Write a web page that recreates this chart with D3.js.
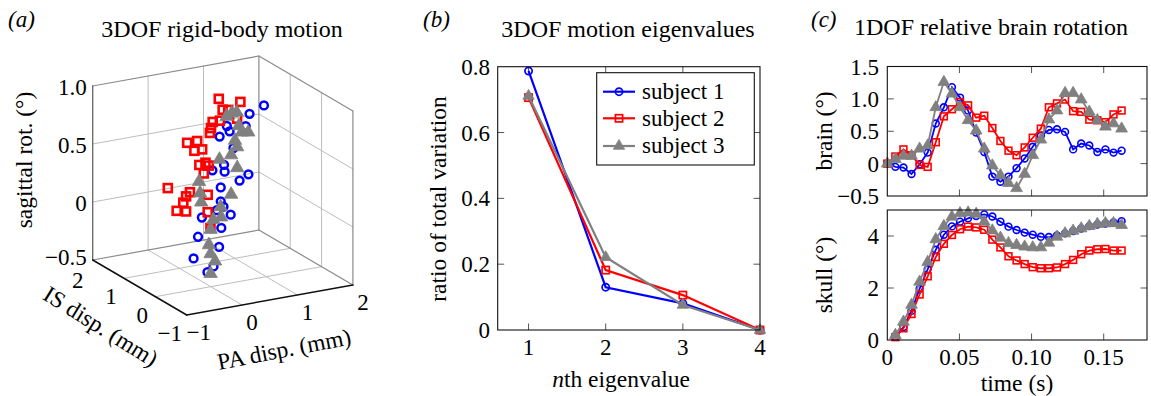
<!DOCTYPE html>
<html><head><meta charset="utf-8">
<script src="https://cdn.jsdelivr.net/npm/d3@7"></script>
<style>body{margin:0;background:#fff}</style>
</head><body>
<svg id="c" width="1151" height="396"></svg>
<script>
// ---------- DATA ----------
// panel (a): 3DOF rigid-body motion (PA disp mm, IS disp mm, sagittal rot deg)
const s1PA  = [0.96,0.70,0.63,0.29,0.34,0.16,0.41,0.24,0.03,0.25,0.68,0.52,0.18,0.18,0.23,0.11,0.36,-0.16,0.19,-0.23,0.15,-0.31,0.05,-0.06];
const s1IS  = [0,0,0,0,0,0,0,0,0,0,0,0,0,0,0,0,0,0,0,0,0,0,0,0];
const s1Rot = [0.98,0.93,0.83,0.86,0.81,0.78,0.66,0.53,0.50,0.47,0.41,0.37,0.34,0.22,0.17,0.15,0.09,0.11,-0.01,-0.05,-0.17,-0.23,-0.33,-0.37];
const s2PA  = [0.71,1.10,0.78,0.88,1.04,0.60,0.73,0.57,0.55,0.14,0.32,0.27,0.41,0.36,0.47,0.53,0.44,-0.21,0.19,0.12,0.07,-0.05,0.12,0.51,0.51,0.56];
const s2IS  = [1,1,1,1,1,1,1,1,1,1,1,1,1,1,1,1,1,1,1,1,1,1,1,1,1,1];
const s2Rot = [0.90,0.84,0.80,0.79,0.70,0.71,0.71,0.66,0.62,0.57,0.57,0.49,0.49,0.36,0.37,0.34,0.28,0.21,0.14,0.11,0.06,0.00,-0.02,0.09,-0.06,-0.20];
const s3PA  = [0.57,0.66,0.75,0.79,0.84,0.96,0.72,0.76,0.65,0.44,0.76,0.07,0.09,0.65,0.11,0.46,0.47,0.33,0.28,0.25,0.28,0.36,0.28];
const s3IS  = [0.5,0.5,0.5,0.5,0.5,0.5,0.5,0.5,0.5,0.5,0.5,0.5,0.5,0.5,0.5,0.5,0.5,0.5,0.5,0.5,0.5,0.5,0.5];
const s3Rot = [0.84,0.86,0.86,0.74,0.68,0.67,0.62,0.56,0.50,0.48,0.38,0.32,0.22,0.16,0.14,0.07,-0.02,-0.03,-0.11,-0.24,-0.32,-0.39,-0.49];
const paTicks  = [-1,0,1,2];
const isTicks  = [-1,0,1,2];
const rotTicks = [-0.5,0,0.5,1.0];
const rotTickLabels = ["\u22120.5","0","0.5","1.0"];

// panel (b): eigenvalues
const eigN  = [1,2,3,4];
const eigS1 = [0.787,0.130,0.081,0.0];
const eigS2 = [0.706,0.182,0.106,0.0];
const eigS3 = [0.711,0.221,0.076,0.0];
const eigYTicks = [0,0.2,0.4,0.6,0.8];
const eigYLabels = ["0","0.2","0.4","0.6","0.8"];

// panel (c): 1DOF relative brain rotation
const tBrain = [0,0.0056,0.0112,0.0168,0.0224,0.028,0.0336,0.0392,0.0448,0.0504,0.056,0.0616,0.0672,0.0728,0.0784,0.084,0.0896,0.0952,0.1008,0.1064,0.112,0.1176,0.1232,0.1288,0.1344,0.14,0.1456,0.1512,0.1568,0.1624];
const brainS1 = [0,-0.05,-0.06,-0.16,-0.01,0.17,0.62,0.87,1.18,1.02,0.82,0.48,0.18,-0.20,-0.28,-0.20,-0.07,0.08,0.26,0.43,0.52,0.53,0.49,0.22,0.31,0.28,0.18,0.22,0.17,0.20];
const brainS2 = [0,0.11,0.22,0.13,-0.02,-0.05,0.33,0.73,0.84,0.95,0.90,0.71,0.74,0.55,0.35,0.20,0.13,0.25,0.40,0.54,0.87,0.93,0.99,0.81,0.80,0.68,0.67,0.64,0.76,0.82];
const brainS3 = [0,0.07,0.12,0.12,0.23,0.28,0.87,1.26,1.08,0.87,0.67,0.51,0.23,-0.03,-0.18,-0.30,-0.38,-0.16,0.13,0.37,0.68,0.82,1.09,1.09,0.99,0.80,0.67,0.57,0.62,0.54];
const tSkull = [0.0056,0.0112,0.0168,0.0224,0.028,0.0336,0.0392,0.0448,0.0504,0.056,0.0616,0.0672,0.0728,0.0784,0.084,0.0896,0.0952,0.1008,0.1064,0.112,0.1176,0.1232,0.1288,0.1344,0.14,0.1456,0.1512,0.1568,0.1624];
const skullS1 = [0.12,0.50,1.12,1.97,2.72,3.47,4.05,4.37,4.55,4.68,4.77,4.83,4.75,4.55,4.36,4.23,4.13,4.05,3.97,3.96,4.02,4.10,4.19,4.29,4.38,4.44,4.48,4.52,4.57];
const skullS2 = [0.11,0.45,1.00,1.75,2.45,3.19,3.70,4.04,4.26,4.36,4.33,4.24,3.86,3.56,3.22,3.06,2.92,2.80,2.76,2.76,2.79,2.92,3.08,3.30,3.44,3.49,3.50,3.44,3.44];
const skullS3 = [0.19,0.70,1.35,2.24,3.00,3.87,4.38,4.74,4.87,4.90,4.85,4.55,4.21,3.93,3.72,3.65,3.59,3.56,3.56,3.74,3.97,4.10,4.20,4.29,4.38,4.46,4.49,4.49,4.42];
const timeTicks = [0,0.05,0.10,0.15];
const timeTickLabels = ["0","0.05","0.10","0.15"];
const brainTicks = [-0.5,0,0.5,1.0,1.5];
const brainTickLabels = ["\u22120.5","0","0.5","1.0","1.5"];
const skullTicks = [0,2,4];
const skullTickLabels = ["0","2","4"];

// ---------- STYLE ----------
const FONT = "'Liberation Serif','Times New Roman',serif";
const BLUE = "#0000ff", RED = "#ff0000", GREY = "#808080";
const TICKC = "#555";
const svg = d3.select("#c");
svg.append("rect").attr("width",1151).attr("height",396).attr("fill","#fff");

function txt(g, x, y, s, size, anchor, opts={}) {
  const t = g.append("text").attr("x",x).attr("y",y).text(s)
    .attr("font-family",FONT).attr("font-size",size).attr("fill","#000")
    .attr("text-anchor",anchor||"start");
  if (opts.italic) t.attr("font-style","italic");
  if (opts.transform) t.attr("transform",opts.transform);
  if (opts.dy) t.attr("dy",opts.dy);
  return t;
}

function marker(g, type, x, y, color, sz, sw) {
  if (type === "circle") {
    g.append("circle").attr("cx",x).attr("cy",y).attr("r",sz)
      .attr("fill","none").attr("stroke",color).attr("stroke-width",sw);
  } else if (type === "square") {
    g.append("rect").attr("x",x-sz).attr("y",y-sz).attr("width",2*sz).attr("height",2*sz)
      .attr("fill","none").attr("stroke",color).attr("stroke-width",sw);
  } else {
    g.append("path").attr("d",d3.symbol().type(d3.symbolTriangle).size(sz*sz*1.9)())
      .attr("transform",`translate(${x},${y})`).attr("fill",color).attr("stroke",color).attr("stroke-width",0.8);
  }
}

// ---------- PANEL (a) : 3D scatter ----------
(function(){
  const g = svg.append("g");
  const B = [186.7,315];           // front-bottom corner (PA=-1, IS=-1, rot=-0.5)
  const U = [166.2,-30];           // full PA span
  const V = [-94,-55];             // full IS span
  const W = [0,-174];              // full rot span
  const sPA = d3.scaleLinear().domain([-1,2]).range([0,1]);
  const sIS = d3.scaleLinear().domain([-1,2]).range([0,1]);
  const sR  = d3.scaleLinear().domain([-0.5,1.0]).range([0,1]);
  const P = (pa,is,r) => {
    const a=sPA(pa), b=sIS(is), c=sR(r);
    return [B[0]+a*U[0]+b*V[0]+c*W[0], B[1]+a*U[1]+b*V[1]+c*W[1]];
  };
  const line = (p,q,col,w) => g.append("line").attr("x1",p[0]).attr("y1",p[1]).attr("x2",q[0]).attr("y2",q[1])
      .attr("stroke",col).attr("stroke-width",w).attr("stroke-linecap","round");
  const GRID = "#bdbdbd";
  [0,1].forEach(pa => line(P(pa,2,-0.5),P(pa,2,1.0),GRID,1));
  [0,0.5].forEach(r => line(P(-1,2,r),P(2,2,r),GRID,1));
  [0,1].forEach(is => line(P(2,is,-0.5),P(2,is,1.0),GRID,1));
  [0,0.5].forEach(r => line(P(2,-1,r),P(2,2,r),GRID,1));
  [0,1].forEach(pa => line(P(pa,-1,-0.5),P(pa,2,-0.5),GRID,1));
  [0,1].forEach(is => line(P(-1,is,-0.5),P(2,is,-0.5),GRID,1));
  const EDGE = "#8a8a8a";
  line(P(-1,2,1.0),P(2,2,1.0),EDGE,1.2);
  line(P(2,2,1.0),P(2,-1,1.0),EDGE,1.2);
  line(P(2,2,-0.5),P(2,2,1.0),EDGE,1.2);
  line(P(2,-1,-0.5),P(2,-1,1.0),EDGE,1.2);
  line(P(-1,2,-0.5),P(2,2,-0.5),EDGE,1.2);
  line(P(2,2,-0.5),P(2,-1,-0.5),EDGE,1.2);
  line(P(-1,2,-0.5),P(-1,2,1.0),"#666",1.3);
  line(P(-1,2,-0.5),P(-1,-1,-0.5),"#111",1.5);
  line(P(-1,-1,-0.5),P(2,-1,-0.5),"#111",1.5);
  rotTicks.forEach((r,i) => { const p=P(-1,2,r); txt(g,p[0]-6,p[1]+(r===-0.5?-3:1),rotTickLabels[i],23,"end",{dy:"0.35em"}); });
  isTicks.forEach(v => { const p=P(-1,v,-0.5); txt(g,p[0]-13+(v===-1?-4:0)+(v===2?-2:0),p[1]+18+(v===2?2:0),v<0?"\u2212"+Math.abs(v):String(v),23,"middle",{dy:"0.35em"}); });
  paTicks.forEach(v => { const p=P(v,-1,-0.5); txt(g,p[0]+10+(v===-1?2:0),p[1]+17,v<0?"\u2212"+Math.abs(v):String(v),23,"middle",{dy:"0.35em"}); });
  const series = [[s1PA,s1IS,s1Rot,"circle",BLUE],[s2PA,s2IS,s2Rot,"square",RED],[s3PA,s3IS,s3Rot,"tri",GREY]];
  series.forEach(([pa,is,rot,type,col]) => {
    pa.forEach((v,i) => {
      const p = P(v,is[i],rot[i]);
      if (type==="circle") marker(g,"circle",p[0],p[1],col,3.9,2.5);
      else if (type==="square") marker(g,"square",p[0],p[1],col,4,2.6);
      else marker(g,"tri",p[0],p[1],col,6.4,0);
    });
  });
  txt(g,8,27,"(a)",23,"start",{italic:true});
  txt(g,222,37,"3DOF rigid-body motion",24,"middle");
  txt(g,0,0,"sagittal rot. (\u00b0)",23.5,"middle",{transform:"translate(24,160) rotate(-90)",dy:"0.35em"});
  txt(g,0,0,"IS disp. (mm)",23.5,"middle",{transform:"translate(101,326) rotate(32)",dy:"0.35em"});
  txt(g,0,0,"PA disp. (mm)",23.5,"middle",{transform:"translate(284,349) rotate(-11)",dy:"0.35em"});
})();

// ---------- PANEL (b) : eigenvalues ----------
(function(){
  const g = svg.append("g");
  const L=497.7, R=760, T=66.7, Bt=330;
  const x = d3.scaleLinear().domain([0.6,4]).range([L,R]);
  const y = d3.scaleLinear().domain([0,0.8]).range([Bt,T]);
  [1,2,3].forEach(v => {
    g.append("line").attr("x1",x(v)).attr("x2",x(v)).attr("y1",Bt).attr("y2",Bt-6.5).attr("stroke",TICKC);
    g.append("line").attr("x1",x(v)).attr("x2",x(v)).attr("y1",T).attr("y2",T+6.5).attr("stroke",TICKC);
  });
  [0.2,0.4,0.6].forEach(v => {
    g.append("line").attr("y1",y(v)).attr("y2",y(v)).attr("x1",L).attr("x2",L+6.5).attr("stroke",TICKC);
    g.append("line").attr("y1",y(v)).attr("y2",y(v)).attr("x1",R).attr("x2",R-6.5).attr("stroke",TICKC);
  });
  eigN.forEach(v => txt(g,x(v),355,String(v),23,"middle"));
  eigYTicks.forEach((v,i) => txt(g,490,y(v),eigYLabels[i],23,"end",{dy:"0.35em"}));
  const ln = d3.line().x((d,i)=>x(eigN[i])).y(d=>y(d));
  const ser = [[eigS1,BLUE,"circle"],[eigS2,RED,"square"],[eigS3,GREY,"tri"]];
  ser.forEach(([vals,col,type]) => {
    g.append("path").attr("d",ln(vals)).attr("fill","none").attr("stroke",col).attr("stroke-width",2.2);
    vals.forEach((v,i) => marker(g,type,x(eigN[i]),y(v),col,type==="tri"?5.4:3.6,1.7));
  });
  g.append("rect").attr("x",L).attr("y",T).attr("width",R-L).attr("height",Bt-T)
    .attr("fill","none").attr("stroke","#111").attr("stroke-width",1.1);
  const lg = g.append("g");
  lg.append("rect").attr("x",596.7).attr("y",72.7).attr("width",157.6).attr("height",92.3)
    .attr("fill","#fff").attr("stroke","#111").attr("stroke-width",1.1);
  const names = ["subject 1","subject 2","subject 3"];
  const ly = [91.7,118.3,146];
  ser.forEach(([vals,col,type],i) => {
    lg.append("line").attr("x1",603).attr("x2",635).attr("y1",ly[i]).attr("y2",ly[i]).attr("stroke",col).attr("stroke-width",2.2);
    marker(lg,type,619,ly[i],col,type==="tri"?5.4:3.6,1.7);
    txt(lg,642,ly[i],names[i],23,"start",{dy:"0.32em"});
  });
  txt(g,423,27,"(b)",23,"start",{italic:true});
  txt(g,628,37,"3DOF motion eigenvalues",24,"middle");
  txt(g,0,0,"ratio of total variation",23.5,"middle",{transform:"translate(438,199) rotate(-90)",dy:"0.35em"});
  const xl = txt(g,621,387,"",23.5,"middle");
  xl.append("tspan").attr("font-style","italic").text("n");
  xl.append("tspan").text("th eigenvalue");
})();

// ---------- PANEL (c) : brain & skull ----------
(function(){
  const g = svg.append("g");
  const L=887.3, R=1147;
  const x = d3.scaleLinear().domain([0,0.18]).range([L,R]);
  function sub(T,Bt,dom,ticks,labels,t,seriesList,xlabels){
    const y = d3.scaleLinear().domain(dom).range([Bt,T]);
    timeTicks.slice(1).forEach(v => {
      g.append("line").attr("x1",x(v)).attr("x2",x(v)).attr("y1",Bt).attr("y2",Bt-6.5).attr("stroke",TICKC);
      g.append("line").attr("x1",x(v)).attr("x2",x(v)).attr("y1",T).attr("y2",T+6.5).attr("stroke",TICKC);
    });
    ticks.forEach(v => {
      if (v===dom[0]||v===dom[1]) return;
      g.append("line").attr("y1",y(v)).attr("y2",y(v)).attr("x1",L).attr("x2",L+6.5).attr("stroke",TICKC);
      g.append("line").attr("y1",y(v)).attr("y2",y(v)).attr("x1",R).attr("x2",R-6.5).attr("stroke",TICKC);
    });
    ticks.forEach((v,i) => txt(g,879,y(v),labels[i],23,"end",{dy:"0.35em"}));
    if (xlabels) timeTicks.forEach((v,i) => txt(g,x(v),365,timeTickLabels[i],23,"middle"));
    const ln = d3.line().x((d,i)=>x(t[i])).y(d=>y(d));
    seriesList.forEach(([vals,col,type]) => {
      g.append("path").attr("d",ln(vals)).attr("fill","none").attr("stroke",col).attr("stroke-width",1.8);
      vals.forEach((v,i) => marker(g,type,x(t[i]),y(v),col,type==="tri"?5.6:3.4,1.6));
    });
    g.append("rect").attr("x",L).attr("y",T).attr("width",R-L).attr("height",Bt-T)
      .attr("fill","none").attr("stroke","#111").attr("stroke-width",1.1);
  }
  sub(66.5,196,[-0.5,1.5],brainTicks,brainTickLabels,tBrain,
      [[brainS1,BLUE,"circle"],[brainS2,RED,"square"],[brainS3,GREY,"tri"]],false);
  sub(210,340,[0,5],skullTicks,skullTickLabels,tSkull,
      [[skullS1,BLUE,"circle"],[skullS2,RED,"square"],[skullS3,GREY,"tri"]],true);
  txt(g,811,27,"(c)",23,"start",{italic:true});
  txt(g,991,35,"1DOF relative brain rotation",24,"middle");
  txt(g,0,0,"brain (\u00b0)",23.5,"middle",{transform:"translate(824,131) rotate(-90)",dy:"0.35em"});
  txt(g,0,0,"skull (\u00b0)",23.5,"middle",{transform:"translate(824,275) rotate(-90)",dy:"0.35em"});
  txt(g,1017,391,"time (s)",23.5,"middle");
})();
</script>
</body></html>
